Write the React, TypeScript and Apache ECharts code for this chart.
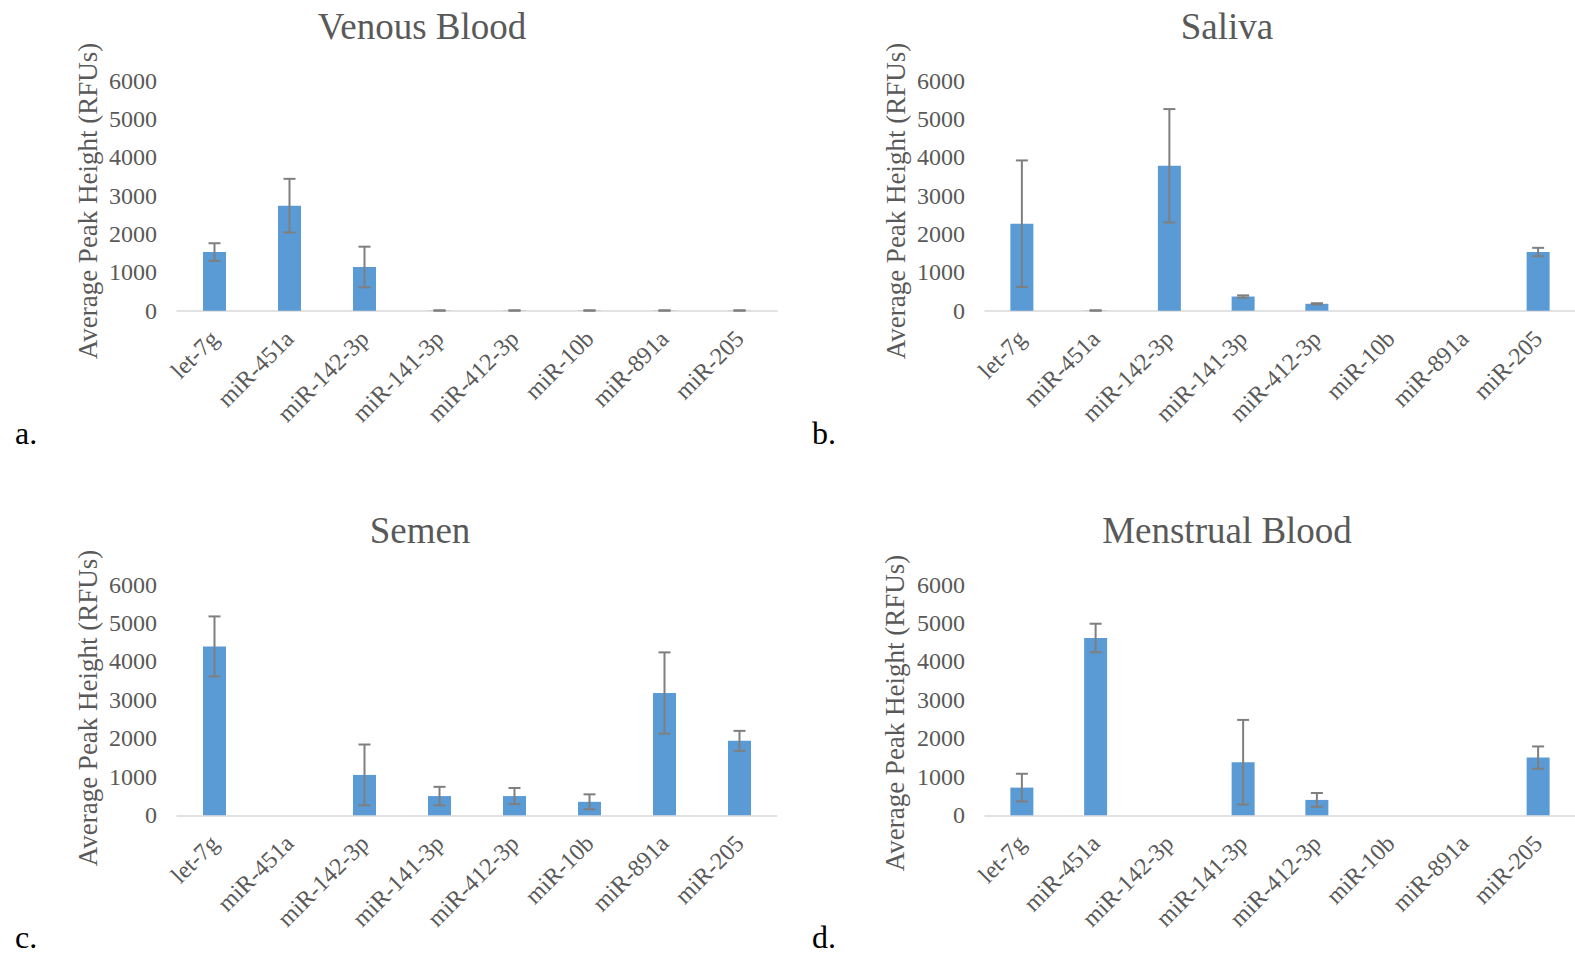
import React, { useEffect, useRef } from "react";
import * as echarts from "echarts";

const categories = ["let-7g", "miR-451a", "miR-142-3p", "miR-141-3p", "miR-412-3p", "miR-10b", "miR-891a", "miR-205"];

const venousMean = [1530, 2740, 1140, 5, 5, 5, 5, 5];
const venousErr = [230, 700, 530, 5, 5, 5, 5, 5];

const salivaMean = [2270, 5, 3780, 370, 180, 0, 0, 1530];
const salivaErr = [1650, 5, 1480, 30, 15, 0, 0, 110];

const semenMean = [4390, 0, 1050, 500, 500, 350, 3180, 1935];
const semenErr = [780, 0, 790, 240, 210, 195, 1055, 260];

const menstrualMean = [720, 4610, 0, 1380, 400, 0, 0, 1500];
const menstrualErr = [360, 370, 0, 1100, 180, 0, 0, 290];

const panelTitles = ["Venous Blood", "Saliva", "Semen", "Menstrual Blood"];
const panelLetters = ["a.", "b.", "c.", "d."];
const yAxisName = "Average Peak Height (RFUs)";
const yMin = 0;
const yMax = 6000;
const yStep = 1000;

const FONT = "'Liberation Serif', 'Times New Roman', serif";
const GRAY = "#595959";
const BAR = "#5b9bd5";
const ERR = "#7f7f7f";

export default function App() {
  const ref = useRef<HTMLDivElement>(null);

  useEffect(() => {
    if (!ref.current) return;
    const chart = echarts.init(ref.current, null, { renderer: "svg" });

    const means = [venousMean, salivaMean, semenMean, menstrualMean];
    const errs = [venousErr, salivaErr, semenErr, menstrualErr];

    const grids = [
      { left: 177, top: 80.7, width: 600, height: 230 },
      { left: 985, top: 80.7, width: 598, height: 230 },
      { left: 177, top: 584.5, width: 600, height: 230.8 },
      { left: 985, top: 584.5, width: 598, height: 230.8 },
    ];

    const xAxis = grids.map((_, i) => ({
      type: "category",
      gridIndex: i,
      data: categories,
      axisLine: { show: true, lineStyle: { color: "#d9d9d9", width: 1.5 } },
      axisTick: { show: false },
      axisLabel: {
        interval: 0,
        rotate: 45,
        margin: 24,
        fontFamily: FONT,
        fontSize: 24,
        color: GRAY,
      },
    }));

    const yAxis = grids.map((_, i) => ({
      type: "value",
      gridIndex: i,
      min: yMin,
      max: yMax,
      interval: yStep,
      axisLine: { show: false },
      axisTick: { show: false },
      splitLine: { show: false },
      axisLabel: {
        margin: 20,
        fontFamily: FONT,
        fontSize: 24,
        color: GRAY,
        formatter: (v: number) => String(v),
      },
    }));

    const series: any[] = [];
    means.forEach((m, i) => {
      series.push({
        type: "bar",
        xAxisIndex: i,
        yAxisIndex: i,
        data: m,
        barWidth: 23,
        itemStyle: { color: BAR },
      });
      const errData = m.map((v, k) => [k, v - errs[i][k], v + errs[i][k], errs[i][k]]);
      series.push({
        type: "custom",
        xAxisIndex: i,
        yAxisIndex: i,
        data: errData,
        encode: { x: 0, y: [1, 2] },
        z: 5,
        renderItem: (params: any, api: any) => {
          const e = api.value(3);
          if (!e) return null;
          const idx = api.value(0);
          const top = api.coord([idx, api.value(2)]);
          const bot = api.coord([idx, api.value(1)]);
          const hw = 6;
          const style = { stroke: ERR, lineWidth: 2 };
          return {
            type: "group",
            children: [
              { type: "line", shape: { x1: top[0], y1: top[1], x2: bot[0], y2: bot[1] }, style },
              { type: "line", shape: { x1: top[0] - hw, y1: top[1], x2: top[0] + hw, y2: top[1] }, style },
              { type: "line", shape: { x1: bot[0] - hw, y1: bot[1], x2: bot[0] + hw, y2: bot[1] }, style },
            ],
          };
        },
      });
    });

    const titlePos = [
      [422, 26],
      [1227, 26],
      [420, 530],
      [1227, 530],
    ];
    const namePos = [
      [88, 201],
      [896, 201],
      [88, 708],
      [895, 713],
    ];
    const letterPos = [
      [15, 433],
      [812, 433],
      [15, 937],
      [812, 937],
    ];

    const graphic: any[] = [];
    panelTitles.forEach((t, i) => {
      graphic.push({
        type: "text",
        x: titlePos[i][0],
        y: titlePos[i][1],
        style: {
          text: t,
          fontFamily: FONT,
          fontSize: 37,
          fill: GRAY,
          align: "center",
          verticalAlign: "middle",
          textAlign: "center",
          textVerticalAlign: "middle",
        },
      });
      graphic.push({
        type: "text",
        x: namePos[i][0],
        y: namePos[i][1],
        rotation: Math.PI / 2,
        style: {
          text: yAxisName,
          fontFamily: FONT,
          fontSize: 27,
          fill: GRAY,
          align: "center",
          verticalAlign: "middle",
          textAlign: "center",
          textVerticalAlign: "middle",
        },
      });
      graphic.push({
        type: "text",
        x: letterPos[i][0],
        y: letterPos[i][1],
        style: {
          text: panelLetters[i],
          fontFamily: FONT,
          fontSize: 32,
          fill: "#000000",
          align: "left",
          verticalAlign: "middle",
          textAlign: "left",
          textVerticalAlign: "middle",
        },
      });
    });

    chart.setOption({
      animation: false,
      backgroundColor: "#ffffff",
      grid: grids.map((g) => ({ ...g, containLabel: false })),
      xAxis,
      yAxis,
      series,
      graphic,
    });

    return () => chart.dispose();
  }, []);

  return (
    <div
      ref={ref}
      style={{ position: "fixed", left: 0, top: 0, width: 1575, height: 955, background: "#fff" }}
    />
  );
}
